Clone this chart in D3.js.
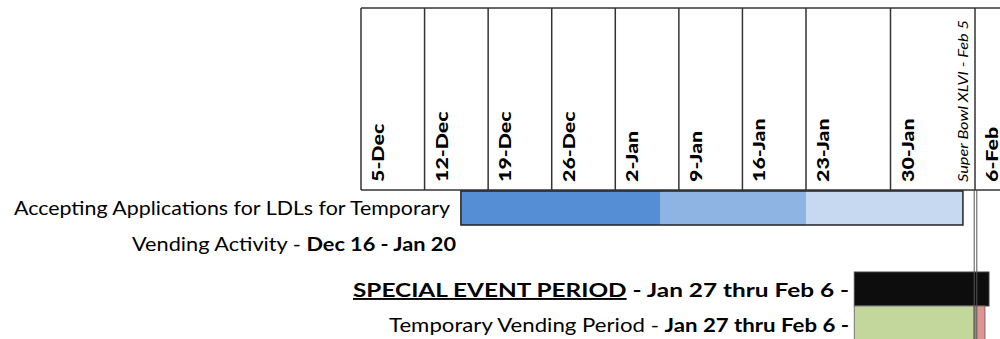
<!DOCTYPE html>
<html>
<head>
<meta charset="utf-8">
<script src="https://cdn.jsdelivr.net/npm/d3@7/dist/d3.min.js"></script>
<style>
  body { margin: 0; background: #fff; }
  svg { display: block; font-family: Lato, "Open Sans", sans-serif; }
</style>
</head>
<body>
<div id="chart"></div>
<script>
// week columns (tick labels + the date each column starts)
const weekLabels = ["5-Dec", "12-Dec", "19-Dec", "26-Dec", "2-Jan", "9-Jan", "16-Jan", "23-Jan", "30-Jan", "6-Feb"];
const weekDates = ["2011-12-05", "2011-12-12", "2011-12-19", "2011-12-26", "2012-01-02", "2012-01-09", "2012-01-16", "2012-01-23", "2012-01-30", "2012-02-06"];

// marker in the header
const superBowlLabel = "Super Bowl XLVI - Feb 5";
const superBowlDate = "2012-02-05";
const eventLineDate = "2012-02-06";

// application phases (start, end)
const appPhases = [
  ["2011-12-16", "2012-01-07"],
  ["2012-01-07", "2012-01-23"],
  ["2012-01-23", "2012-02-05"]
];

// event rows (start, end)
const specialEvent = ["2012-01-27", "2012-02-07"];
const tempVending = ["2012-01-27", "2012-02-06"];
const gameDay = ["2012-02-06T00:00", "2012-02-06T17:00"];

const parse = d => new Date(d.length > 10 ? d : d + "T00:00");

const width = 1000, height = 339;

// columns are not all the same width, so the time scale is piecewise
const x = d3.scaleTime()
  .domain([parse("2011-12-05"), parse("2012-01-23"), parse("2012-02-06"), parse("2012-02-13")])
  .range([361, 806, 975, 1073]);

// row tops
const rowTop = d3.scaleOrdinal()
  .domain(["apps", "appsCont", "special", "temp"])
  .range([191, 225.5, 272, 306]);
const rowH = 34;

const headTop = 8, headBottom = 190;
const lineCol = "#333";

const svg = d3.select("#chart").append("svg")
  .attr("width", width)
  .attr("height", height);

// ---- header grid
const head = svg.append("g");
[headTop, headBottom].forEach(yy => {
  head.append("line")
    .attr("x1", x(parse(weekDates[0]))).attr("x2", width + 10)
    .attr("y1", yy).attr("y2", yy)
    .attr("stroke", lineCol).attr("stroke-width", 1.5);
});

head.selectAll(".col")
  .data(weekDates)
  .enter().append("line")
  .attr("class", "col")
  .attr("x1", d => x(parse(d))).attr("x2", d => x(parse(d)))
  .attr("y1", headTop).attr("y2", headBottom)
  .attr("stroke", lineCol).attr("stroke-width", 1.5);

// labels stretched along their length (the source font is wider)
head.selectAll(".wk")
  .data(weekLabels)
  .enter().append("text")
  .attr("class", "wk")
  .attr("transform", (d, i) => "translate(" + (x(parse(weekDates[i])) + 23) + "," + 182 + ") rotate(-90) scale(1.22,1)")
  .attr("font-size", 17.5)
  .attr("font-weight", 900)
  .attr("fill", "#000")
  .text(d => d);

head.append("text")
  .attr("transform", "translate(" + (x(parse(superBowlDate)) + 5) + "," + 182 + ") rotate(-90)")
  .attr("font-size", 14)
  .attr("font-style", "italic")
  .attr("font-weight", 400)
  .attr("textLength", 162)
  .attr("lengthAdjust", "spacingAndGlyphs")
  .attr("fill", "#000")
  .text(superBowlLabel);

// ---- application bar
const appColors = ["#558ed5", "#8eb4e3", "#c6d9f1"];
const apps = svg.append("g");
apps.selectAll("rect")
  .data(appPhases)
  .enter().append("rect")
  .attr("x", d => x(parse(d[0])))
  .attr("width", d => x(parse(d[1])) - x(parse(d[0])))
  .attr("y", rowTop("apps"))
  .attr("height", rowH)
  .attr("fill", (d, i) => appColors[i]);
apps.append("rect")
  .attr("x", x(parse(appPhases[0][0])))
  .attr("width", x(parse(appPhases[2][1])) - x(parse(appPhases[0][0])))
  .attr("y", rowTop("apps"))
  .attr("height", rowH)
  .attr("fill", "none")
  .attr("stroke", "#222")
  .attr("stroke-width", 1.5);

// ---- event bars
svg.append("rect")
  .attr("x", x(parse(specialEvent[0])))
  .attr("width", x(parse(specialEvent[1])) - x(parse(specialEvent[0])))
  .attr("y", rowTop("special"))
  .attr("height", rowH)
  .attr("fill", "#0d0d0d")
  .attr("stroke", "#444")
  .attr("stroke-width", 1);

svg.append("rect")
  .attr("x", x(parse(tempVending[0])))
  .attr("width", x(parse(tempVending[1])) - x(parse(tempVending[0])) - 1)
  .attr("y", rowTop("temp"))
  .attr("height", rowH + 10)
  .attr("fill", "#c3d69b")
  .attr("stroke", "#777")
  .attr("stroke-width", 1);

svg.append("rect")
  .attr("x", x(parse(gameDay[0])))
  .attr("width", x(parse(gameDay[1])) - x(parse(gameDay[0])))
  .attr("y", rowTop("temp"))
  .attr("height", rowH + 10)
  .attr("fill", "#d99694")
  .attr("stroke", "#8a5d5c")
  .attr("stroke-width", 1);

// double line at the event day
svg.selectAll(".evl")
  .data([-0.8, 1.8])
  .enter().append("line")
  .attr("class", "evl")
  .attr("x1", d => x(parse(eventLineDate)) + d)
  .attr("x2", d => x(parse(eventLineDate)) + d)
  .attr("y1", headBottom).attr("y2", height)
  .attr("stroke", "#555")
  .attr("stroke-width", 1);

// ---- row labels
function rowLabel(y, xEnd, len, parts) {
  const t = svg.append("text")
    .attr("x", xEnd)
    .attr("y", y)
    .attr("text-anchor", "end")
    .attr("font-size", 19)
    .attr("fill", "#000")
    .attr("textLength", len)
    .attr("lengthAdjust", "spacingAndGlyphs");
  parts.forEach(p => {
    t.append("tspan")
      .attr("font-weight", p.b ? 700 : 400)
      .attr("text-decoration", p.u ? "underline" : null)
      .text(p.t);
  });
}

rowLabel(rowTop("apps") + 24, 450, 436, [{ t: "Accepting Applications for LDLs for Temporary" }]);
rowLabel(rowTop("appsCont") + 25, 456, 324, [{ t: "Vending Activity - " }, { t: "Dec 16 - Jan 20", b: true }]);
rowLabel(rowTop("special") + 25, 849, 496, [{ t: "SPECIAL EVENT PERIOD", b: true, u: true }, { t: " - Jan 27 thru Feb 6 -", b: true }]);
rowLabel(rowTop("temp") + 26, 849, 460, [{ t: "Temporary Vending Period - " }, { t: "Jan 27 thru Feb 6 -", b: true }]);
</script>
</body>
</html>
